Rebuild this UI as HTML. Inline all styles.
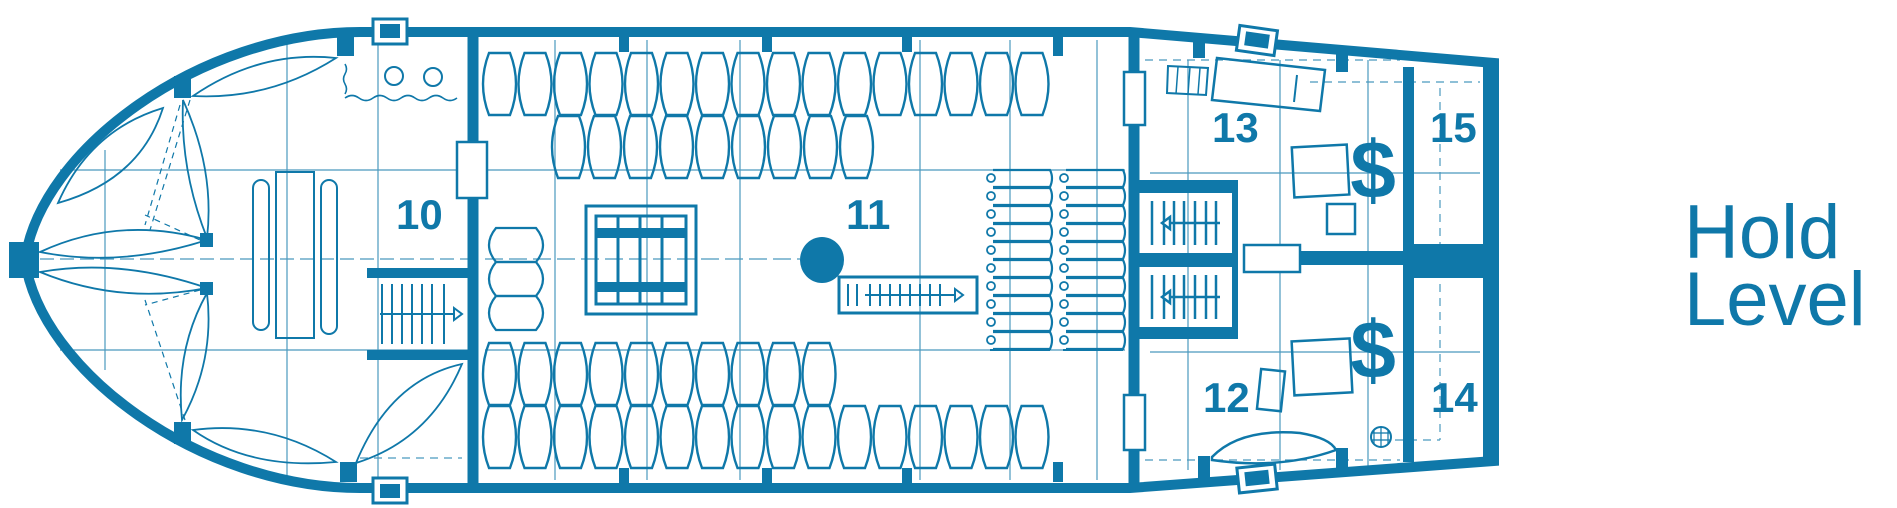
<!DOCTYPE html>
<html><head><meta charset="utf-8"><style>
html,body{margin:0;padding:0;background:#fff;}
svg{display:block;}
text{font-family:"Liberation Sans",Arial,sans-serif;fill:#0f78a9;}
</style></head><body>
<svg width="1897" height="508" viewBox="0 0 1897 508" xmlns="http://www.w3.org/2000/svg">
<defs>
<path id="b" d="M7 1 L28 1 Q40 32 28 63 L7 63 Q-5 32 7 1Z" fill="none" stroke="#0f78a9" stroke-width="2.4"/>
<g id="sk"><path d="M5 0 H62 Q66 8 62 17 H5" fill="none" stroke="#0f78a9" stroke-width="2.2"/><circle cx="3" cy="8" r="4" fill="none" stroke="#0f78a9" stroke-width="1.8"/></g>
<g id="st"><line x1="12" y1="8" x2="12" y2="52" /><line x1="24" y1="8" x2="24" y2="52"/><line x1="34" y1="8" x2="34" y2="52"/><line x1="44" y1="8" x2="44" y2="52"/><line x1="55" y1="8" x2="55" y2="52"/><line x1="66" y1="8" x2="66" y2="52"/><line x1="76" y1="8" x2="76" y2="52"/><line x1="30" y1="30" x2="80" y2="30"/><path d="M22 30 L30 24 L30 36 Z" fill="#fff"/></g>
</defs>
<g stroke="#0f78a9" fill="none">
<!-- faint grid -->
<g stroke-width="1.2" opacity="0.75">
<line x1="60" y1="170" x2="470" y2="170"/><line x1="60" y1="350" x2="470" y2="350"/>
<line x1="40" y1="259" x2="470" y2="259" stroke-dasharray="14 6"/>
<line x1="287" y1="40" x2="287" y2="480"/><line x1="378" y1="40" x2="378" y2="480"/><line x1="105" y1="150" x2="105" y2="370"/>
<line x1="485" y1="259" x2="800" y2="259" stroke-dasharray="18 6"/>
<line x1="485" y1="170" x2="1125" y2="170"/><line x1="485" y1="350" x2="1125" y2="350"/>
<line x1="555" y1="40" x2="555" y2="480"/><line x1="647" y1="40" x2="647" y2="480"/><line x1="740" y1="40" x2="740" y2="480"/><line x1="920" y1="40" x2="920" y2="480"/><line x1="1010" y1="40" x2="1010" y2="480"/><line x1="1097" y1="40" x2="1097" y2="480"/>
<line x1="1150" y1="173" x2="1480" y2="173"/><line x1="1150" y1="352" x2="1480" y2="352"/>
<line x1="1188" y1="60" x2="1188" y2="470"/><line x1="1280" y1="60" x2="1280" y2="470"/><line x1="1368" y1="60" x2="1368" y2="470"/>
<path d="M1145 60 H1400 M1145 460 H1400 M1310 82 H1480 M1440 88 V440 M1395 440 H1440" stroke-dasharray="8 6"/>
<path d="M360 458 H462" stroke-dasharray="8 6"/>
</g>
<!-- hull -->
<path d="M360 32 L1130 32 L1494 63 L1494 461 L1130 488 L360 488 C200 488 40 370 25 260 C40 150 200 32 360 32 Z" stroke-width="10"/>
<rect x="9" y="242" width="30" height="36" fill="#0f78a9" stroke="none"/>
<!-- posts -->
<g fill="#0f78a9" stroke="none">
<rect x="174" y="76" width="17" height="22"/><rect x="337" y="36" width="17" height="20"/>
<rect x="200" y="233" width="13" height="14"/><rect x="200" y="282" width="13" height="13"/>
<rect x="174" y="422" width="17" height="22"/><rect x="340" y="462" width="17" height="20"/>
<rect x="619" y="36" width="10" height="16"/><rect x="762" y="36" width="10" height="16"/><rect x="902" y="36" width="10" height="16"/>
<rect x="619" y="468" width="10" height="16"/><rect x="762" y="468" width="10" height="16"/><rect x="902" y="468" width="10" height="16"/>
<rect x="1053" y="36" width="10" height="20"/><rect x="1053" y="462" width="10" height="20"/>
<rect x="1193" y="36" width="12" height="22"/><rect x="1336" y="50" width="12" height="22"/>
<rect x="1198" y="456" width="12" height="24"/><rect x="1336" y="448" width="12" height="22"/>
<rect x="1483" y="60" width="15" height="402"/>
</g>
<!-- deck fittings -->
<rect x="373" y="19" width="34" height="25" fill="#fff" stroke-width="3"/><rect x="380" y="24" width="20" height="14" fill="#0f78a9" stroke="none"/>
<rect x="373" y="478" width="34" height="25" fill="#fff" stroke-width="3"/><rect x="380" y="484" width="20" height="14" fill="#0f78a9" stroke="none"/>
<g transform="rotate(8 1257 40)"><rect x="1238" y="28" width="38" height="25" fill="#fff" stroke-width="3"/><rect x="1245" y="33" width="24" height="14" fill="#0f78a9" stroke="none"/></g>
<g transform="rotate(-6 1257 478)"><rect x="1238" y="466" width="38" height="25" fill="#fff" stroke-width="3"/><rect x="1245" y="471" width="24" height="14" fill="#0f78a9" stroke="none"/></g>
<!-- bow boats -->
<g stroke-width="1.8">
<path d="M193 96 Q260 50 336 58 Q270 100 193 96Z"/>
<path d="M58 203 Q90 130 163 108 Q140 180 58 203Z"/>
<path d="M183 100 Q215 170 207 238 Q180 170 183 100Z"/>
<path d="M40 252 Q120 215 207 240 Q120 268 40 252Z"/>
<path d="M40 272 Q120 258 207 288 Q120 305 40 272Z"/>
<path d="M207 293 Q215 360 182 420 Q175 350 207 293Z"/>
<path d="M193 430 Q270 420 336 462 Q250 470 193 430Z"/>
<path d="M356 463 Q390 380 462 364 Q430 440 356 463Z"/>
<path d="M180 105 L145 225 M190 100 L150 230" stroke-dasharray="6 5" stroke-width="1.2"/>
<path d="M200 240 L145 215 M200 290 L145 305 M185 420 L145 300" stroke-dasharray="6 5" stroke-width="1.2"/>
</g>
<!-- room 10 furniture -->
<rect x="276" y="172" width="38" height="166" stroke-width="2"/>
<rect x="253" y="180" width="16" height="150" rx="8" stroke-width="2"/>
<rect x="321" y="180" width="16" height="154" rx="8" stroke-width="2"/>
<circle cx="394" cy="76" r="9" stroke-width="2"/><circle cx="433" cy="77" r="9" stroke-width="2"/>
<path d="M345 64 q3 5 0 10 q-3 5 0 10 q3 5 0 10 M345 98 q7 -5 14 0 q7 5 14 0 q7 -5 14 0 q7 5 14 0 q7 -5 14 0 q7 5 14 0 q7 -5 14 0 q7 5 14 0" stroke-width="1.6"/>
<!-- bulkhead 10/11 -->
<path d="M473 34 V142 M473 198 V486" stroke-width="11"/>
<rect x="457" y="142" width="30" height="56" fill="#fff" stroke-width="2.5"/>
<rect x="367" y="268" width="106" height="10" fill="#0f78a9" stroke="none"/>
<rect x="367" y="350" width="106" height="10" fill="#0f78a9" stroke="none"/>
<g stroke-width="2" transform="translate(370,278)"><line x1="12" y1="6" x2="12" y2="66"/><line x1="22" y1="6" x2="22" y2="66"/><line x1="32" y1="6" x2="32" y2="66"/><line x1="42" y1="6" x2="42" y2="66"/><line x1="52" y1="6" x2="52" y2="66"/><line x1="62" y1="6" x2="62" y2="66"/><line x1="74" y1="6" x2="74" y2="66"/><line x1="10" y1="36" x2="84" y2="36"/><path d="M84 30 L92 36 L84 42Z" fill="#fff"/></g>
<!-- barrels -->
<use href="#b" x="482" y="52"/><use href="#b" x="517.5" y="52"/><use href="#b" x="553" y="52"/><use href="#b" x="588.5" y="52"/><use href="#b" x="624" y="52"/><use href="#b" x="659.5" y="52"/><use href="#b" x="695" y="52"/><use href="#b" x="730.5" y="52"/><use href="#b" x="766" y="52"/><use href="#b" x="801.5" y="52"/><use href="#b" x="837" y="52"/><use href="#b" x="872.5" y="52"/><use href="#b" x="908" y="52"/><use href="#b" x="943.5" y="52"/><use href="#b" x="979" y="52"/><use href="#b" x="1014.5" y="52"/>
<use href="#b" x="551" y="115"/><use href="#b" x="587" y="115"/><use href="#b" x="623" y="115"/><use href="#b" x="659" y="115"/><use href="#b" x="695" y="115"/><use href="#b" x="731" y="115"/><use href="#b" x="767" y="115"/><use href="#b" x="803" y="115"/><use href="#b" x="839" y="115"/>
<use href="#b" x="482" y="342"/><use href="#b" x="517.5" y="342"/><use href="#b" x="553" y="342"/><use href="#b" x="588.5" y="342"/><use href="#b" x="624" y="342"/><use href="#b" x="659.5" y="342"/><use href="#b" x="695" y="342"/><use href="#b" x="730.5" y="342"/><use href="#b" x="766" y="342"/><use href="#b" x="801.5" y="342"/>
<use href="#b" x="482" y="405"/><use href="#b" x="517.5" y="405"/><use href="#b" x="553" y="405"/><use href="#b" x="588.5" y="405"/><use href="#b" x="624" y="405"/><use href="#b" x="659.5" y="405"/><use href="#b" x="695" y="405"/><use href="#b" x="730.5" y="405"/><use href="#b" x="766" y="405"/><use href="#b" x="801.5" y="405"/><use href="#b" x="837" y="405"/><use href="#b" x="872.5" y="405"/><use href="#b" x="908" y="405"/><use href="#b" x="943.5" y="405"/><use href="#b" x="979" y="405"/><use href="#b" x="1014.5" y="405"/>
<!-- small barrels -->
<g stroke-width="2.2"><path d="M496 228 H536 Q550 245 536 262 H496 Q482 245 496 228Z"/><path d="M496 262 H536 Q550 279 536 296 H496 Q482 279 496 262Z"/><path d="M496 296 H536 Q550 313 536 330 H496 Q482 313 496 296Z"/></g>
<!-- hatch -->
<rect x="586" y="206" width="110" height="108" stroke-width="3"/>
<rect x="596" y="216" width="90" height="88" stroke-width="3"/>
<g stroke-width="3"><line x1="618" y1="216" x2="618" y2="304"/><line x1="640" y1="216" x2="640" y2="304"/><line x1="662" y1="216" x2="662" y2="304"/></g>
<g fill="#0f78a9" stroke="none"><rect x="596" y="228" width="90" height="10"/><rect x="596" y="282" width="90" height="10"/></g>
<!-- mast -->
<ellipse cx="822" cy="260" rx="22" ry="23" fill="#0f78a9" stroke="none"/>
<rect x="839" y="277" width="138" height="36" stroke-width="3"/>
<g stroke-width="2"><line x1="848" y1="284" x2="848" y2="306"/><line x1="857" y1="284" x2="857" y2="306"/><line x1="870" y1="284" x2="870" y2="306"/><line x1="880" y1="284" x2="880" y2="306"/><line x1="890" y1="284" x2="890" y2="306"/><line x1="900" y1="284" x2="900" y2="306"/><line x1="910" y1="284" x2="910" y2="306"/><line x1="920" y1="284" x2="920" y2="306"/><line x1="930" y1="284" x2="930" y2="306"/><line x1="940" y1="284" x2="940" y2="306"/><line x1="865" y1="295" x2="955" y2="295"/><path d="M955 289 L963 295 L955 301Z" fill="#fff"/></g>
<!-- sacks -->
<use href="#sk" x="988" y="170"/><use href="#sk" x="988" y="188"/><use href="#sk" x="988" y="206"/><use href="#sk" x="988" y="224"/><use href="#sk" x="988" y="242"/><use href="#sk" x="988" y="260"/><use href="#sk" x="988" y="278"/><use href="#sk" x="988" y="296"/><use href="#sk" x="988" y="314"/><use href="#sk" x="988" y="332"/>
<use href="#sk" x="1061" y="170"/><use href="#sk" x="1061" y="188"/><use href="#sk" x="1061" y="206"/><use href="#sk" x="1061" y="224"/><use href="#sk" x="1061" y="242"/><use href="#sk" x="1061" y="260"/><use href="#sk" x="1061" y="278"/><use href="#sk" x="1061" y="296"/><use href="#sk" x="1061" y="314"/><use href="#sk" x="1061" y="332"/>
<line x1="990" y1="350" x2="1050" y2="350" stroke-width="2"/><line x1="1063" y1="350" x2="1123" y2="350" stroke-width="2"/>
<!-- bulkhead 11/12-13 -->
<path d="M1134 34 V72 M1134 125 V395 M1134 450 V486" stroke-width="11"/>
<rect x="1124" y="72" width="21" height="53" fill="#fff" stroke-width="2.5"/>
<rect x="1124" y="395" width="21" height="55" fill="#fff" stroke-width="2.5"/>
<g fill="#0f78a9" stroke="none">
<rect x="1134" y="180" width="104" height="13"/><rect x="1134" y="253" width="104" height="14"/><rect x="1134" y="327" width="104" height="12"/>
<rect x="1232" y="180" width="6" height="159"/>
<rect x="1300" y="251" width="110" height="14"/>
<rect x="1405" y="244" width="93" height="34"/>
<rect x="1403" y="67" width="11" height="395"/>
</g>
<g stroke-width="2.5"><use href="#st" x="1140" y="193"/><use href="#st" x="1140" y="267"/></g>
<rect x="1244" y="245" width="56" height="27" fill="#fff" stroke-width="2.5"/>
<!-- room 13 -->
<path d="M1217 58 L1325 70 L1320 111 L1212 100 Z" stroke-width="2.5"/>
<line x1="1297" y1="75" x2="1294" y2="102" stroke-width="2"/>
<path d="M1168 66 L1208 68 L1206 95 L1167 93 Z" stroke-width="2"/>
<path d="M1178 67 L1176 94 M1190 67 L1188 94 M1200 68 L1198 94" stroke-width="1.5"/>
<rect x="1293" y="146" width="55" height="50" stroke-width="2.5" transform="rotate(-3 1320 170)"/>
<rect x="1327" y="204" width="28" height="30" stroke-width="2.5"/>
<!-- room 12 -->
<rect x="1293" y="340" width="58" height="54" stroke-width="2.5" transform="rotate(-3 1320 367)"/>
<rect x="1259" y="370" width="24" height="40" stroke-width="2.5" transform="rotate(6 1270 390)"/>
<circle cx="1381" cy="437" r="10" stroke-width="2"/>
<path d="M1374 430 V444 M1381 428 V446 M1388 430 V444 M1372 433 H1390 M1371 440 H1391" stroke-width="1.2"/>
<path d="M1212 457 Q1240 428 1300 433 Q1330 438 1336 450 Q1280 470 1212 460Z" stroke-width="2.5"/>
</g>
<!-- labels -->
<g font-weight="bold" font-size="42">
<text x="396" y="229">10</text>
<text x="846" y="229">11</text>
<text x="1212" y="142">13</text>
<text x="1430" y="142">15</text>
<text x="1203" y="412">12</text>
<text x="1431" y="412">14</text>
</g>
<g font-weight="bold" font-size="82">
<text x="1373" y="198" text-anchor="middle">$</text>
<text x="1373" y="378" text-anchor="middle">$</text>
</g>
<text x="1684" y="258" font-size="76">Hold</text>
<text x="1684" y="325" font-size="76">Level</text>
</svg>
</body></html>
